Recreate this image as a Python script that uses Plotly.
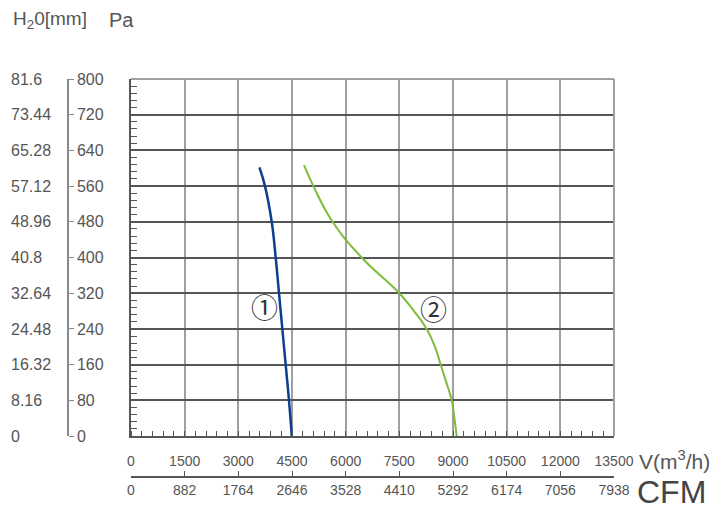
import plotly.graph_objects as go

# courbes débit / pression
v1 = [3590, 3745, 3933, 4044, 4137, 4230, 4323, 4416, 4495]
p1 = [602, 560, 480, 400, 320, 240, 160, 80, 0]
v2 = [4835, 5098, 5635, 6447, 7500, 7910, 8264, 8497, 8655, 8822, 8963, 9040, 9103]
p2 = [607, 560, 480, 400, 320, 280, 240, 200, 160, 118, 80, 40, 0]

v_ticks = [0, 1500, 3000, 4500, 6000, 7500, 9000, 10500, 12000, 13500]
v_labels = ["0", "1500", "3000", "4500", "6000", "7500", "9000", "10500", "12000", "13500"]
cfm_ticks = [0, 882, 1764, 2646, 3528, 4410, 5292, 6174, 7056, 7938]
pa_ticks = [0, 80, 160, 240, 320, 400, 480, 560, 640, 720, 800]
mm_ticks = [0, 8.16, 16.32, 24.48, 32.64, 40.8, 48.96, 57.12, 65.28, 73.44, 81.6]
mm_labels = ["0", "8.16", "16.32", "24.48", "32.64", "40.8", "48.96",
             "57.12", "65.28", "73.44", "81.6"]

# la page décale la figure de 8 px (marge du body)
OFF = 8
W, H = 723, 517
L, R, T, B = 0, 723 - (614 - OFF), 79 - OFF, 517 - (477 - OFF)
pw = W - L - R
ph = H - T - B

def px_x(p):
    return (p - OFF - L) / pw

def px_y(p):
    return (H - B - (p - OFF)) / ph

grey = "#555555"
ff = "Liberation Sans, Arial"
fnt_x = dict(family=ff, size=14, color=grey)
fnt_y = dict(family=ff, size=16, color=grey)

fig = go.Figure()
fig.add_trace(go.Scatter(x=v1, y=p1, mode="lines",
                         line=dict(color="#0d3f8f", width=2.5, shape="spline", smoothing=1.2)))
fig.add_trace(go.Scatter(x=v2, y=p2, mode="lines",
                         line=dict(color="#7cbd3c", width=2, shape="spline", smoothing=1.3)))

fig.update_layout(
    width=W, height=H, margin=dict(l=L, r=R, t=T, b=B, autoexpand=False),
    plot_bgcolor="white", paper_bgcolor="white", showlegend=False,
    font=fnt_y,
    xaxis=dict(domain=[px_x(131), 1], range=[0, 13500], tickvals=v_ticks, ticktext=v_labels,
               showgrid=True, gridcolor="#a0a0a0", gridwidth=2, zeroline=False,
               showline=True, linecolor=grey, linewidth=1.5, automargin=False,
               ticks="", ticklabelstandoff=11, tickfont=fnt_x,
               minor=dict(dtick=300, ticks="inside", ticklen=5, tickcolor=grey, showgrid=False)),
    xaxis2=dict(overlaying="x", anchor="free", position=0, range=[0, 7938],
                tickvals=cfm_ticks, showgrid=False, zeroline=False, automargin=False,
                showline=True, linecolor=grey, linewidth=1.5,
                ticks="inside", ticklen=5, tickcolor=grey, tickfont=fnt_x),
    yaxis=dict(domain=[px_y(436), 1], range=[0, 800], tickvals=pa_ticks, automargin=False,
               showticklabels=False, showgrid=True, gridcolor="#555555", gridwidth=1.5,
               zeroline=False, showline=True, linecolor=grey, linewidth=1.5, ticks="",
               minor=dict(dtick=16, ticks="inside", ticklen=6, tickcolor=grey, showgrid=False)),
    yaxis2=dict(overlaying="y", side="right", anchor="free", position=px_x(68),
                range=[0, 800], tickvals=pa_ticks, showgrid=False, zeroline=False,
                showline=True, linecolor="#888888", linewidth=1.5, automargin=False,
                ticks="outside", ticklen=5, tickcolor="#888888", tickfont=fnt_y),
    yaxis3=dict(overlaying="y", side="right", anchor="free", position=px_x(10),
                range=[0, 81.6], tickvals=mm_ticks, ticktext=mm_labels, automargin=False,
                showgrid=False, zeroline=False, showline=False, ticks="", tickfont=fnt_y),
)

# traces vides pour afficher les axes CFM, Pa et mm
fig.add_trace(go.Scatter(x=[0, 7938], y=[0, 0], xaxis="x2", yaxis="y", mode="lines",
                         line=dict(width=0), hoverinfo="skip"))
fig.add_trace(go.Scatter(x=[0, 0], y=[0, 800], xaxis="x", yaxis="y2", mode="lines",
                         line=dict(width=0), hoverinfo="skip"))
fig.add_trace(go.Scatter(x=[0, 0], y=[0, 81.6], xaxis="x", yaxis="y3", mode="lines",
                         line=dict(width=0), hoverinfo="skip"))

# bords haut et droite
fig.add_shape(type="line", xref="x domain", yref="y domain", x0=0, x1=1, y0=1, y1=1,
              line=dict(color="#a0a0a0", width=2))
fig.add_shape(type="line", xref="x domain", yref="y domain", x0=1, x1=1, y0=0, y1=1,
              line=dict(color="#a0a0a0", width=2))

fig.add_annotation(x=3728, y=290, text="①", showarrow=False,
                   font=dict(family="Noto Sans CJK JP", size=27, color="#333333"))
fig.add_annotation(x=8455, y=286, text="②", showarrow=False,
                   font=dict(family="Noto Sans CJK JP", size=27, color="#333333"))

fig.add_annotation(xref="paper", yref="paper", x=px_x(11), y=px_y(20), xanchor="left", yanchor="middle",
                   text="H<sub>2</sub>0[mm]", showarrow=False, font=dict(size=19, color=grey, family=ff))
fig.add_annotation(xref="paper", yref="paper", x=px_x(107), y=px_y(20), xanchor="left", yanchor="middle",
                   text="Pa", showarrow=False, font=dict(size=20, color=grey, family=ff))
fig.add_annotation(xref="paper", yref="paper", x=px_x(637), y=px_y(460), xanchor="left", yanchor="middle",
                   text="V(m<sup>3</sup>/h)", showarrow=False, font=dict(size=21, color=grey, family=ff))
fig.add_annotation(xref="paper", yref="paper", x=px_x(635), y=px_y(492), xanchor="left", yanchor="middle",
                   text="CFM", showarrow=False, font=dict(size=32, color="#444444", family=ff))

fig.write_html("out.html")
